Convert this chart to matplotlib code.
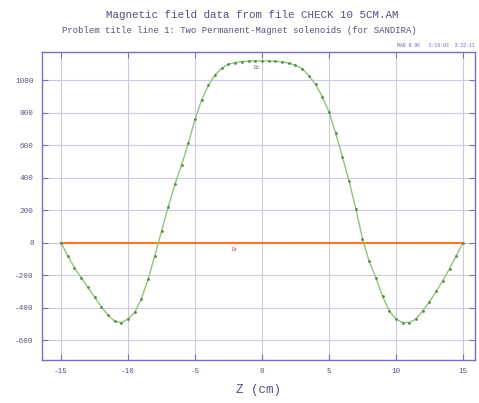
import matplotlib
matplotlib.use("Agg")
import matplotlib.pyplot as plt

# ---- data ----
z_cm = [-15.0, -14.5, -14.0, -13.5, -13.0, -12.5, -12.0, -11.5, -11.0, -10.5,
        -10.0, -9.5, -9.0, -8.5, -8.0, -7.5, -7.0, -6.5, -6.0, -5.5,
        -5.0, -4.5, -4.0, -3.5, -3.0, -2.5, -2.0, -1.5, -1.0, -0.5,
        0.0, 0.5, 1.0, 1.5, 2.0, 2.5, 3.0, 3.5, 4.0, 4.5,
        5.0, 5.5, 6.0, 6.5, 7.0, 7.5, 8.0, 8.5, 9.0, 9.5,
        10.0, 10.5, 11.0, 11.5, 12.0, 12.5, 13.0, 13.5, 14.0, 14.5, 15.0]
bz = [0, -80, -155, -215, -275, -335, -395, -445, -485, -493,
      -470, -430, -345, -225, -80, 70, 220, 360, 480, 612,
      760, 880, 970, 1035, 1075, 1100, 1110, 1116, 1119, 1120,
      1120, 1120, 1118, 1114, 1106, 1094, 1072, 1030, 975, 900,
      805, 675, 530, 380, 210, 25, -115, -215, -330, -420,
      -470, -492, -492, -470, -420, -365, -300, -235, -160, -80, 0]
br = [0.0 for _ in z_cm]

x_ticks = [-15, -10, -5, 0, 5, 10, 15]
y_ticks = [-600, -400, -200, 0, 200, 400, 600, 800, 1000]

title1 = "Magnetic field data from file CHECK 10 5CM.AM"
title2 = "Problem title line 1: Two Permanent-Magnet solenoids (for SANDIRA)"
stamp = "MAR 8 96   3:19:03  3:32:11"
xlabel = "Z (cm)"

mono = ["Liberation Mono", "DejaVu Sans Mono"]
frame_c = "#7474b4"
grid_c = "#cacae6"
text_c = "#55557a"

fig = plt.figure(figsize=(4.79, 4.03), dpi=100)
ax = fig.add_axes([0.0877, 0.1067, 0.9039, 0.7643])

ax.plot(z_cm, br, color="#f07838", lw=1.6, zorder=3)
ax.plot(z_cm, bz, color="#8cc874", lw=1.0, marker="o", ms=1.0,
        mfc="#5a8a50", mec="#5a8a50", zorder=4)

ax.set_xlim(-16.42, 15.9)
ax.set_ylim(-723, 1175)
ax.set_xticks(x_ticks)
ax.set_yticks(y_ticks)
ax.set_xticklabels([str(v) for v in x_ticks], family=mono, fontsize=5.5, color=text_c)
ax.set_yticklabels([str(v) for v in y_ticks], family=mono, fontsize=5.5, color=text_c)
ax.tick_params(direction="in", length=4, width=0.8, color=frame_c, pad=6,
               top=True, right=True)
ax.grid(True, color=grid_c, lw=0.8)
ax.set_axisbelow(True)
for s in ax.spines.values():
    s.set_color(frame_c)
    s.set_linewidth(1.0)

ax.text(-0.35, 1081, "Bz", fontsize=4, family=mono, color="#708070",
        ha="center", va="center", zorder=5)
ax.text(-2.0, -45, "Br", fontsize=4, family=mono, color="#c06060",
        ha="center", va="center", zorder=5)

ax.set_xlabel(xlabel, family=mono, fontsize=9, color="#505070", labelpad=6)

fig.text(0.526, 0.962, title1, family=mono, fontsize=7.8, color="#505078",
         ha="center", va="center")
fig.text(0.499, 0.925, title2, family=mono, fontsize=6.4, color="#505078",
         ha="center", va="center")
fig.text(0.99, 0.888, stamp, family=mono, fontsize=3.5, color="#6a6ab0",
         ha="right", va="center")

fig.savefig("out.png", dpi=100)
